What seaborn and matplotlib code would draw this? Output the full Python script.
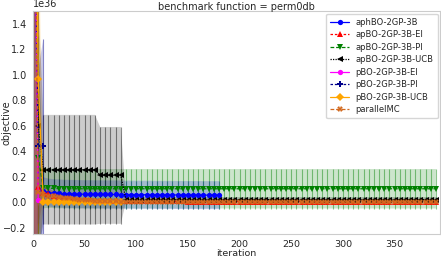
import numpy as np
import pandas as pd
import matplotlib
matplotlib.use("Agg")
import matplotlib.pyplot as plt
import seaborn as sns

SCALE = 1e36
methods = ["aphBO-2GP-3B", "apBO-2GP-3B-EI", "apBO-2GP-3B-PI", "apBO-2GP-3B-UCB",
           "pBO-2GP-3B-EI", "pBO-2GP-3B-PI", "pBO-2GP-3B-UCB", "parallelMC"]

iter_full = np.arange(0, 395, 5)  # 0..390

# aphBO-2GP-3B (iterations 0..180)
aph_iter = np.arange(0, 185, 5)
aph_mean = [3.5, 0.10, 0.085, 0.075, 0.070, 0.068, 0.066, 0.065, 0.064, 0.063,
            0.062, 0.062, 0.061, 0.061, 0.060, 0.060, 0.060, 0.059, 0.059, 0.059,
            0.058, 0.058, 0.058, 0.058, 0.057, 0.057, 0.057, 0.057, 0.056, 0.056,
            0.056, 0.056, 0.056, 0.055, 0.055, 0.055, 0.055]
aph_sd = [5.0, 1.20, 0.11, 0.11, 0.11, 0.11, 0.11, 0.11, 0.11, 0.11,
          0.11, 0.11, 0.11, 0.11, 0.11, 0.11, 0.11, 0.11, 0.11, 0.11,
          0.11, 0.11, 0.11, 0.11, 0.11, 0.11, 0.11, 0.11, 0.11, 0.11,
          0.11, 0.11, 0.11, 0.11, 0.11, 0.11, 0.11]

# apBO-2GP-3B-EI
ei_mean = [4.0, 0.12, 0.075, 0.060, 0.045, 0.035, 0.028, 0.022, 0.018, 0.015,
           0.013, 0.012, 0.011, 0.010, 0.010, 0.009, 0.009, 0.008, 0.008, 0.008,
           0.007, 0.007, 0.007, 0.007, 0.006, 0.006, 0.006, 0.006, 0.006, 0.006,
           0.005, 0.005, 0.005, 0.005, 0.005, 0.005, 0.005, 0.005, 0.005, 0.005,
           0.005, 0.005, 0.005, 0.005, 0.005, 0.005, 0.005, 0.005, 0.005, 0.005,
           0.005, 0.005, 0.005, 0.005, 0.005, 0.005, 0.005, 0.005, 0.005, 0.005,
           0.005, 0.005, 0.005, 0.005, 0.005, 0.005, 0.005, 0.005, 0.005, 0.005,
           0.005, 0.005, 0.005, 0.005, 0.005, 0.004, 0.004, 0.004, 0.004]
ei_sd = [6.0, 0.30, 0.06, 0.05, 0.04, 0.035, 0.03, 0.025, 0.022, 0.02,
         0.02, 0.02, 0.02, 0.02, 0.02, 0.02, 0.02, 0.02, 0.02, 0.02,
         0.015, 0.015, 0.015, 0.015, 0.015, 0.015, 0.015, 0.015, 0.015, 0.015,
         0.015, 0.015, 0.015, 0.015, 0.015, 0.015, 0.015, 0.015, 0.015, 0.015,
         0.015, 0.015, 0.015, 0.015, 0.015, 0.015, 0.015, 0.015, 0.015, 0.015,
         0.015, 0.015, 0.015, 0.015, 0.015, 0.015, 0.015, 0.015, 0.015, 0.015,
         0.015, 0.015, 0.015, 0.015, 0.015, 0.015, 0.015, 0.015, 0.015, 0.015,
         0.015, 0.015, 0.015, 0.015, 0.015, 0.015, 0.015, 0.015, 0.015]

# apBO-2GP-3B-PI
pi_mean = [4.2, 0.35, 0.112, 0.110, 0.108, 0.107, 0.106, 0.106, 0.105, 0.105,
           0.105, 0.105, 0.105, 0.105, 0.105, 0.105, 0.105, 0.105, 0.105, 0.105,
           0.105, 0.105, 0.105, 0.105, 0.105, 0.105, 0.105, 0.105, 0.105, 0.105,
           0.105, 0.105, 0.105, 0.105, 0.105, 0.105, 0.105, 0.105, 0.105, 0.105,
           0.105, 0.105, 0.105, 0.105, 0.105, 0.105, 0.105, 0.105, 0.105, 0.105,
           0.105, 0.105, 0.105, 0.105, 0.105, 0.105, 0.105, 0.105, 0.105, 0.105,
           0.105, 0.105, 0.105, 0.105, 0.105, 0.105, 0.105, 0.105, 0.105, 0.105,
           0.105, 0.105, 0.105, 0.105, 0.105, 0.105, 0.105, 0.105, 0.105]
pi_sd = [6.0, 0.90, 0.16, 0.155, 0.155, 0.155, 0.155, 0.155, 0.155, 0.155,
         0.155, 0.155, 0.155, 0.155, 0.155, 0.155, 0.155, 0.155, 0.155, 0.155,
         0.155, 0.155, 0.155, 0.155, 0.155, 0.155, 0.155, 0.155, 0.155, 0.155,
         0.155, 0.155, 0.155, 0.155, 0.155, 0.155, 0.155, 0.155, 0.155, 0.155,
         0.155, 0.155, 0.155, 0.155, 0.155, 0.155, 0.155, 0.155, 0.155, 0.155,
         0.155, 0.155, 0.155, 0.155, 0.155, 0.155, 0.155, 0.155, 0.155, 0.155,
         0.155, 0.155, 0.155, 0.155, 0.155, 0.155, 0.155, 0.155, 0.155, 0.155,
         0.155, 0.155, 0.155, 0.155, 0.155, 0.155, 0.155, 0.155, 0.155]

# apBO-2GP-3B-UCB
ucb_mean = [4.5, 0.60, 0.255, 0.255, 0.255, 0.255, 0.255, 0.255, 0.255, 0.255,
            0.255, 0.255, 0.255, 0.21, 0.21, 0.21, 0.21, 0.21, 0.020, 0.020,
            0.020, 0.020, 0.020, 0.020, 0.020, 0.020, 0.020, 0.020, 0.020, 0.020,
            0.020, 0.020, 0.020, 0.020, 0.020, 0.020, 0.020, 0.020, 0.020, 0.020,
            0.020, 0.020, 0.020, 0.020, 0.020, 0.020, 0.020, 0.020, 0.020, 0.020,
            0.020, 0.020, 0.020, 0.020, 0.020, 0.020, 0.020, 0.020, 0.020, 0.020,
            0.020, 0.020, 0.020, 0.020, 0.020, 0.020, 0.020, 0.020, 0.020, 0.020,
            0.020, 0.020, 0.020, 0.020, 0.020, 0.020, 0.020, 0.020, 0.020]
ucb_sd = [6.0, 1.0, 0.43, 0.43, 0.43, 0.43, 0.43, 0.43, 0.43, 0.43,
          0.43, 0.43, 0.43, 0.38, 0.38, 0.38, 0.38, 0.38, 0.02, 0.02,
          0.02, 0.02, 0.02, 0.02, 0.02, 0.02, 0.02, 0.02, 0.02, 0.02,
          0.02, 0.02, 0.02, 0.02, 0.02, 0.02, 0.02, 0.02, 0.02, 0.02,
          0.02, 0.02, 0.02, 0.02, 0.02, 0.02, 0.02, 0.02, 0.02, 0.02,
          0.02, 0.02, 0.02, 0.02, 0.02, 0.02, 0.02, 0.02, 0.02, 0.02,
          0.02, 0.02, 0.02, 0.02, 0.02, 0.02, 0.02, 0.02, 0.02, 0.02,
          0.02, 0.02, 0.02, 0.02, 0.02, 0.02, 0.02, 0.02, 0.02]

# pBO-2GP-3B-EI
pei_iter = [0, 5]
pei_mean = [4.0, 0.02]
pei_sd = [6.0, 0.02]

# pBO-2GP-3B-PI
ppi_iter = [0, 5, 10]
ppi_mean = [4.0, 0.44, 0.44]
ppi_sd = [6.0, 0.60, 0.84]

# pBO-2GP-3B-UCB
pucb_iter = np.arange(0, 90, 5)
pucb_mean = [4.2, 0.97, 0.005, 0.004, 0.004, 0.003, 0.003, 0.003, 0.003, 0.002,
             0.002, 0.002, 0.002, 0.002, 0.002, 0.002, 0.002, 0.002]
pucb_sd = [6.0, 1.5, 0.01, 0.01, 0.01, 0.01, 0.01, 0.01, 0.01, 0.01,
           0.01, 0.01, 0.01, 0.01, 0.01, 0.01, 0.01, 0.01]

# parallelMC
mc_mean = [3.8, 0.08, 0.060, 0.050, 0.045, 0.040, 0.035, 0.030, 0.025, 0.020,
           0.016, 0.013, 0.011, 0.009, 0.008, 0.007, 0.006, 0.005, 0.005, 0.004,
           0.004, 0.004, 0.004, 0.003, 0.003, 0.003, 0.003, 0.003, 0.003, 0.003,
           0.003, 0.003, 0.003, 0.003, 0.003, 0.003, 0.003, 0.003, 0.003, 0.003,
           0.003, 0.003, 0.003, 0.003, 0.003, 0.003, 0.003, 0.003, 0.003, 0.003,
           0.003, 0.003, 0.003, 0.003, 0.003, 0.003, 0.003, 0.003, 0.003, 0.003,
           0.003, 0.003, 0.003, 0.003, 0.003, 0.003, 0.003, 0.003, 0.003, 0.003,
           0.003, 0.003, 0.003, 0.003, 0.003, 0.003, 0.003, 0.003, 0.003]
mc_sd = [5.5, 0.10, 0.05, 0.045, 0.04, 0.035, 0.03, 0.03, 0.025, 0.02,
         0.02, 0.015, 0.015, 0.012, 0.01, 0.01, 0.01, 0.01, 0.01, 0.01,
         0.01, 0.01, 0.01, 0.01, 0.01, 0.01, 0.01, 0.01, 0.01, 0.01,
         0.01, 0.01, 0.01, 0.01, 0.01, 0.01, 0.01, 0.01, 0.01, 0.01,
         0.01, 0.01, 0.01, 0.01, 0.01, 0.01, 0.01, 0.01, 0.01, 0.01,
         0.01, 0.01, 0.01, 0.01, 0.01, 0.01, 0.01, 0.01, 0.01, 0.01,
         0.01, 0.01, 0.01, 0.01, 0.01, 0.01, 0.01, 0.01, 0.01, 0.01,
         0.01, 0.01, 0.01, 0.01, 0.01, 0.01, 0.01, 0.01, 0.01]

series = {
    "aphBO-2GP-3B": (aph_iter, aph_mean, aph_sd),
    "apBO-2GP-3B-EI": (iter_full, ei_mean, ei_sd),
    "apBO-2GP-3B-PI": (iter_full, pi_mean, pi_sd),
    "apBO-2GP-3B-UCB": (iter_full, ucb_mean, ucb_sd),
    "pBO-2GP-3B-EI": (pei_iter, pei_mean, pei_sd),
    "pBO-2GP-3B-PI": (ppi_iter, ppi_mean, ppi_sd),
    "pBO-2GP-3B-UCB": (pucb_iter, pucb_mean, pucb_sd),
    "parallelMC": (iter_full, mc_mean, mc_sd),
}

palette = {
    "aphBO-2GP-3B": "blue",
    "apBO-2GP-3B-EI": "red",
    "apBO-2GP-3B-PI": "green",
    "apBO-2GP-3B-UCB": "black",
    "pBO-2GP-3B-EI": "magenta",
    "pBO-2GP-3B-PI": "darkblue",
    "pBO-2GP-3B-UCB": "orange",
    "parallelMC": "chocolate",
}
markers = {
    "aphBO-2GP-3B": "o",
    "apBO-2GP-3B-EI": "^",
    "apBO-2GP-3B-PI": "v",
    "apBO-2GP-3B-UCB": "<",
    "pBO-2GP-3B-EI": "o",
    "pBO-2GP-3B-PI": "P",
    "pBO-2GP-3B-UCB": "D",
    "parallelMC": "X",
}
dashes = {
    "aphBO-2GP-3B": "",
    "apBO-2GP-3B-EI": (2, 1.5),
    "apBO-2GP-3B-PI": (3, 1.5),
    "apBO-2GP-3B-UCB": (1, 1),
    "pBO-2GP-3B-EI": "",
    "pBO-2GP-3B-PI": (2, 1.5),
    "pBO-2GP-3B-UCB": "",
    "parallelMC": (3, 1.5),
}

rows = []
for m in methods:
    it, mu, sd = series[m]
    for x, y, s in zip(it, mu, sd):
        rows.append({"iteration": x, "objective": y * SCALE, "sd": s * SCALE, "method": m})
df = pd.DataFrame(rows)

sns.set_style("whitegrid")
plt.rcParams["font.family"] = ["DejaVu Sans"]
plt.rcParams["font.size"] = 7

fig = plt.figure(figsize=(4.41, 2.57), dpi=100)
ax = fig.add_axes([33 / 441, 1 - 234 / 257, 407 / 441, (234 - 11) / 257])

for m in methods:
    sub = df[df["method"] == m]
    c = palette[m]
    ax.fill_between(sub["iteration"], sub["objective"] - sub["sd"], sub["objective"] + sub["sd"],
                    color=c, alpha=0.2, linewidth=0)
    ax.errorbar(sub["iteration"], sub["objective"], yerr=sub["sd"], fmt="none",
                ecolor=c, elinewidth=0.8, alpha=0.45, capsize=0)

sns.lineplot(data=df, x="iteration", y="objective", hue="method", style="method",
             hue_order=methods, style_order=methods, palette=palette, markers=markers,
             dashes=dashes, markersize=3.8, markeredgewidth=0, linewidth=0.9,
             errorbar=None, ax=ax)

ax.grid(False)
ax.set_xlim(0, 394)
ax.set_ylim(-0.25 * SCALE, 1.5 * SCALE)
ax.set_xlabel("iteration", fontsize=6.8, va="center")
ax.xaxis.set_label_coords(0.5, -19 / 223)
ax.set_ylabel("objective", fontsize=7, va="center")
ax.yaxis.set_label_coords(-27 / 407, 0.5)
ax.tick_params(axis="y", labelsize=7, pad=1)
ax.tick_params(axis="x", labelsize=6.8, pad=0.5)
ax.yaxis.get_offset_text().set_fontsize(7)
ax.set_title("benchmark function = perm0db", fontsize=7, pad=1)
leg = ax.legend(loc="upper right", fontsize=6, frameon=True, handlelength=2.2,
                borderaxespad=0.3, labelspacing=0.42, borderpad=0.5)
fig.savefig("out.png", dpi=100)
